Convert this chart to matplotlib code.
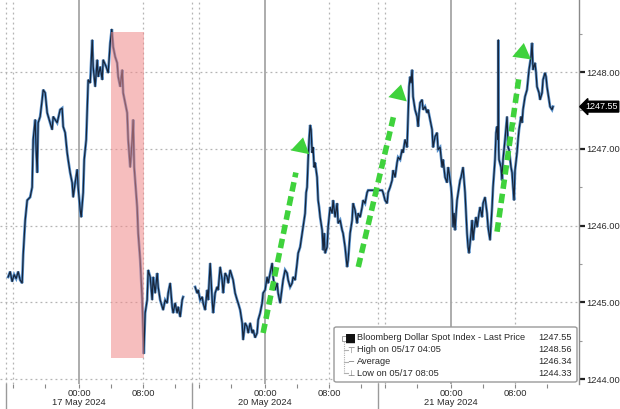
import numpy as np
import matplotlib
matplotlib.use("Agg")
import matplotlib.pyplot as plt
import matplotlib.transforms as mtransforms
from matplotlib.patches import Rectangle, FancyBboxPatch, FancyArrowPatch
from matplotlib.lines import Line2D

plt.rcParams['font.family'] = ['Liberation Sans', 'DejaVu Sans']

# ---- data: hours on a session axis (17 May 00:00 = 0, 20 May 00:00 = 23.25, 21 May 00:00 = 46.5)
t_s1 = [-8.88, -8.63, -8.38, -8.13, -7.88, -7.63, -7.38, -7.13, -7.0, -6.75, -6.5, -6.13, -5.88, -5.75,
        -5.5, -5.38, -5.25, -5.13, -4.88, -4.63, -4.5, -4.25, -4.0, -3.63, -3.38, -3.25, -2.75, -2.38,
        -2.13, -2.0, -1.75, -1.5, -1.38, -1.13, -0.88, -0.75, -0.5, -0.25, -0.13, 0.13, 0.25, 0.5, 0.63,
        0.88, 1.0, 1.13, 1.38, 1.63, 1.75, 2.0, 2.25, 2.38, 2.63, 2.88, 3.0, 3.38, 3.63, 3.88, 4.08,
        4.25, 4.5, 4.75, 4.88, 5.13, 5.38, 5.5, 5.75, 6.0, 6.13, 6.38, 6.63, 6.75, 6.88, 7.0, 7.25, 7.38,
        7.63, 7.88, 8.0, 8.08, 8.25, 8.5, 8.63, 8.88, 9.13, 9.25, 9.5, 9.75, 9.88, 10.13, 10.5, 10.75,
        11.0, 11.13, 11.38, 11.63, 11.75, 12.0, 12.25, 12.38, 12.63, 12.88, 13.0]
v_s1 = [1245.33, 1245.40, 1245.27, 1245.36, 1245.31, 1245.40, 1245.29, 1245.25, 1245.62, 1246.07,
        1246.33, 1246.37, 1246.50, 1247.12, 1247.38, 1246.99, 1246.69, 1247.34, 1247.42, 1247.64,
        1247.77, 1247.73, 1247.47, 1247.34, 1247.25, 1247.42, 1247.34, 1247.51, 1247.53, 1247.29,
        1247.21, 1246.95, 1246.86, 1246.69, 1246.56, 1246.37, 1246.56, 1246.73, 1246.50, 1246.20,
        1246.11, 1246.43, 1246.86, 1247.12, 1247.51, 1247.90, 1247.86, 1248.42, 1248.07, 1247.81,
        1248.16, 1247.94, 1248.07, 1247.90, 1248.16, 1248.07, 1247.99, 1248.38, 1248.56, 1248.33,
        1248.20, 1248.12, 1247.94, 1247.81, 1248.03, 1247.73, 1247.60, 1247.47, 1247.12, 1246.76,
        1247.12, 1247.38, 1246.76, 1246.59, 1246.24, 1245.90, 1245.55, 1245.03, 1244.60, 1244.33,
        1244.86, 1245.03, 1245.42, 1245.33, 1245.03, 1245.33, 1245.12, 1245.38, 1245.20, 1245.03,
        1244.90, 1245.03, 1244.99, 1245.12, 1245.25, 1244.94, 1244.86, 1244.99, 1244.86, 1244.94,
        1244.81, 1245.03, 1245.07]

t_s2 = [14.5, 14.75, 14.88, 15.13, 15.38, 15.5, 15.75, 16.0, 16.13, 16.38, 16.63, 16.75, 17.0, 17.25,
        17.38, 17.63, 17.88, 18.0, 18.25, 18.5, 18.63, 18.88, 19.13, 19.25, 19.5, 19.75, 19.88, 20.13,
        20.38, 20.5, 20.75, 21.0, 21.13, 21.38, 21.63, 21.75, 22.0, 22.25, 22.38, 22.63, 22.88, 23.0,
        23.25, 23.5, 23.63, 23.88, 24.13, 24.25, 24.5, 24.75, 24.88, 25.13, 25.38, 25.5, 25.75, 26.0,
        26.13, 26.38, 26.63, 26.75, 27.0, 27.25, 27.38, 27.63, 27.88, 28.0, 28.25, 28.38, 28.5, 28.63,
        28.75, 28.88, 29.0, 29.13, 29.25, 29.38, 29.5, 29.75, 29.88, 30.0, 30.13, 30.38, 30.5, 30.63,
        30.75, 31.0, 31.13, 31.38, 31.63, 31.75, 32.0, 32.25, 32.38, 32.63, 32.88, 33.0, 33.25, 33.5,
        33.63, 33.88, 34.13, 34.25, 34.5, 34.75, 34.88, 35.13, 35.38, 35.5, 35.75, 36.0, 36.13,
        37.88, 38.0, 38.25, 38.5, 38.63, 38.88, 39.13, 39.25, 39.5, 39.75, 39.88, 40.13, 40.38, 40.5,
        40.75, 41.0, 41.13, 41.25, 41.38, 41.5, 41.63, 41.75, 42.0, 42.25, 42.38, 42.5, 42.63, 42.88,
        43.0, 43.25, 43.5, 43.63, 43.88, 44.13, 44.25, 44.5, 44.75, 44.88, 45.13, 45.38, 45.5, 45.75,
        46.0, 46.13, 46.25, 46.5, 46.63, 46.75, 46.88, 47.0, 47.13, 47.25, 47.5, 47.63, 47.75, 48.0,
        48.13, 48.25, 48.38, 48.5, 48.63, 48.75, 49.0, 49.13, 49.25, 49.38, 49.63, 49.75, 50.0, 50.13,
        50.38, 50.5, 50.75, 51.0, 51.13, 51.38, 51.63, 51.75, 52.0, 52.13, 52.25, 52.38, 52.41, 52.45,
        52.5, 52.75, 52.88, 53.0, 53.25, 53.5, 53.63, 53.75, 54.0, 54.13, 54.25, 54.38, 54.5, 54.75,
        54.88, 55.0, 55.25, 55.38, 55.5, 55.75, 56.0, 56.13, 56.25, 56.5, 56.63, 56.75, 57.0, 57.13,
        57.25, 57.5, 57.63, 57.88, 58.0, 58.25, 58.38, 58.5, 58.75, 58.88, 59.13, 59.25]
v_s2 = [1245.20, 1245.12, 1245.16, 1245.03, 1245.07, 1244.99, 1244.90, 1245.16, 1245.03, 1245.51,
        1245.03, 1244.86, 1245.12, 1245.20, 1245.16, 1245.46, 1245.29, 1245.12, 1245.38, 1245.33,
        1245.25, 1245.42, 1245.33, 1245.29, 1245.12, 1245.03, 1244.99, 1244.90, 1244.73, 1244.51,
        1244.73, 1244.68, 1244.60, 1244.73, 1244.60, 1244.64, 1244.54, 1244.60, 1244.77, 1244.86,
        1244.99, 1245.12, 1245.16, 1245.33, 1245.25, 1245.38, 1245.51, 1245.33, 1245.16, 1245.25,
        1245.12, 1244.99, 1245.20, 1245.29, 1245.42, 1245.38, 1245.29, 1245.20, 1245.25, 1245.33,
        1245.29, 1245.51, 1245.64, 1245.72, 1245.90, 1245.98, 1246.16, 1246.43, 1246.50, 1246.86,
        1247.12, 1247.31, 1247.25, 1246.95, 1247.02, 1246.76, 1246.82, 1246.63, 1246.33, 1246.24,
        1246.11, 1245.94, 1245.68, 1245.90, 1245.64, 1245.72, 1245.98, 1246.24, 1246.16, 1246.33,
        1246.11, 1246.29, 1246.03, 1246.07, 1245.94, 1245.90, 1245.72, 1245.46, 1245.55, 1245.90,
        1246.07, 1246.29, 1246.20, 1246.03, 1246.16, 1246.11, 1246.24, 1246.33, 1246.29, 1246.43,
        1246.46,
        1246.46, 1246.43, 1246.33, 1246.29, 1246.43, 1246.50, 1246.59, 1246.72, 1246.63, 1246.82,
        1246.89, 1246.86, 1246.99, 1246.95, 1247.12, 1247.02, 1247.42, 1247.81, 1247.94, 1247.86,
        1248.03, 1247.68, 1247.51, 1247.42, 1247.29, 1247.47, 1247.60, 1247.64, 1247.51, 1247.55,
        1247.47, 1247.51, 1247.38, 1247.25, 1247.02, 1247.16, 1247.21, 1246.99, 1247.02, 1246.76,
        1246.86, 1246.63, 1246.56, 1246.76, 1246.69, 1246.50, 1246.33, 1245.98, 1246.16, 1245.94,
        1246.16, 1246.33, 1246.50, 1246.59, 1246.63, 1246.76, 1246.59, 1246.43, 1246.16, 1245.90,
        1245.72, 1245.64, 1245.90, 1246.07, 1245.81, 1245.94, 1246.11, 1245.98, 1246.16, 1246.24,
        1246.11, 1246.29, 1246.37, 1246.16, 1245.98, 1245.81, 1246.24, 1246.50, 1246.86, 1247.21,
        1247.29, 1247.12, 1248.42, 1247.02, 1246.86, 1246.76, 1246.59, 1246.86, 1247.12, 1247.42,
        1247.02, 1246.99, 1246.76, 1246.69, 1246.50, 1246.33, 1246.72, 1246.95, 1247.12, 1247.25,
        1247.42, 1247.34, 1247.51, 1247.68, 1247.77, 1247.90, 1248.03, 1248.20, 1248.38, 1248.03,
        1248.12, 1247.99, 1247.81, 1247.73, 1247.64, 1247.73, 1247.90, 1247.99, 1247.94, 1247.81,
        1247.64, 1247.55, 1247.51, 1247.55]

day_starts = [0.0, 23.25, 46.5]
day_names = ["17 May 2024", "20 May 2024", "21 May 2024"]
session_breaks = [-9.1, 14.15, 37.4]

legend_labels = ["Bloomberg Dollar Spot Index - Last Price", "High on 05/17 04:05", "Average",
                 "Low on 05/17 08:05"]
legend_values = [1247.55, 1248.56, 1246.34, 1244.33]
legend_symbols = ["\u25A0", "\u22A4", "\u2212", "\u22A5"]

last_price = 1247.55
selloff_window = (4.0, 8.1)          # hours: high 04:05 -> low 08:05
selloff_range = (1244.28, 1248.52)

# green arrows (tail hour, tail value, head hour, head value)
arrows = [(23.0, 1244.60, 28.0, 1247.15),
          (34.9, 1245.46, 40.25, 1247.84),
          (52.25, 1245.92, 55.6, 1248.38)]

FS = 6.7
TXT = '#2a2a2a'

# ---- figure
W, H = 620, 409
fig = plt.figure(figsize=(W / 100, H / 100), dpi=100)
ax = fig.add_axes([0, 1 - 384 / H, 579 / W, 384 / H])
ax.set_xlim(-9.9, 62.5)
ax.set_ylim(1243.935, 1248.94)

t_all = np.array(t_s1 + [np.nan] + t_s2)
v_all = np.array(v_s1 + [np.nan] + v_s2)
ax.plot(t_all, v_all, color='#5a92cc', lw=2.0, zorder=4, solid_joinstyle='miter')
ax.plot(t_all, v_all, color='#17253a', lw=0.9, zorder=5)

# grid
grid_c = '#b4b4b4'
for y in range(1244, 1249):
    ax.axhline(y, color=grid_c, lw=0.9, ls=(0, (1.5, 2.5)), zorder=1)
for d in day_starts:
    ax.axvline(d, color='#a6a6a6', lw=1.3, zorder=1)
    ax.axvline(d + 8, color=grid_c, lw=0.9, ls=(0, (1.5, 2.5)), zorder=1)
for s in session_breaks:
    ax.axvline(s, color=grid_c, lw=0.9, ls=(0, (1.5, 2.5)), zorder=1)
    ax.axvline(s + 0.85, color=grid_c, lw=0.9, ls=(0, (1.5, 2.5)), zorder=1)
    ax.plot([s, s], [0, -0.07], transform=mtransforms.blended_transform_factory(ax.transData, ax.transAxes),
            color='#9a9a9a', lw=1.0, clip_on=False)

# red selloff box
ax.add_patch(Rectangle((selloff_window[0], selloff_range[0]), selloff_window[1] - selloff_window[0],
                       selloff_range[1] - selloff_range[0], fc='#f08a8a', alpha=0.55, ec='none', zorder=6))

# green dashed arrows
g = '#3fd23c'
for (x0, y0, x1, y1) in arrows:
    xm = x0 + 0.82 * (x1 - x0)
    ym = y0 + 0.82 * (y1 - y0)
    ax.plot([x0, xm], [y0, ym], color=g, lw=4.0, ls=(0, (1.7, 0.9)), solid_capstyle='butt',
            dash_capstyle='butt', zorder=7)
    ax.add_patch(FancyArrowPatch((xm, ym), (x1, y1), arrowstyle='-|>,head_length=0.55,head_width=0.34',
                                 mutation_scale=20, color=g, lw=0, zorder=7, shrinkA=0, shrinkB=0))

# spines and ticks
for side in ['left', 'top', 'bottom']:
    ax.spines[side].set_visible(False)
ax.spines['right'].set_color('#8a8a8a')
ax.spines['right'].set_linewidth(1.0)

ax.yaxis.tick_right()
ax.set_yticks([1244, 1245, 1246, 1247, 1248])
ax.set_yticklabels([f"{v:.2f}" for v in [1244, 1245, 1246, 1247, 1248]])
ax.set_yticks([1244.5, 1245.5, 1246.5, 1247.5, 1248.5], minor=True)
ax.tick_params(axis='y', which='major', length=4, width=1.6, color='#222222', pad=1.2,
               labelsize=FS, labelcolor=TXT)
ax.tick_params(axis='y', which='minor', length=2, width=0.8, color='#999999')

major_x = []
major_lab = []
for d, n in zip(day_starts, day_names):
    major_x += [d, d + 8]
    major_lab += [f"00:00\n{n}", "08:00"]
ax.set_xticks(major_x)
ax.set_xticklabels(major_lab, linespacing=1.0)
minor_x = []
for d in day_starts:
    minor_x += [d - 8.25, d - 4.25, d + 4, d + 12]
ax.set_xticks(minor_x, minor=True)
ax.tick_params(axis='x', which='major', length=3, width=0.8, color='#888888', pad=0.8,
               labelsize=FS, labelcolor=TXT)
ax.tick_params(axis='x', which='minor', length=3, width=0.8, color='#888888')

# last price tag
ax.text(1.011, last_price, f"{last_price:.2f}", color='white', fontsize=FS - 0.2, va='center', ha='left',
        transform=mtransforms.blended_transform_factory(ax.transAxes, ax.transData),
        bbox=dict(boxstyle='larrow,pad=0.1', fc='black', ec='black'), zorder=10, clip_on=False)

# legend box
def fx(px):
    return px / W

def fy(py):
    return 1 - py / H

fig.patches.append(FancyBboxPatch((fx(334), fy(382)), fx(577) - fx(334), fy(327) - fy(382),
                                  boxstyle='round,pad=0,rounding_size=0.004', transform=fig.transFigure,
                                  fc='white', ec='#9a9a9a', lw=1.0, zorder=20))
rows = [338, 350, 362, 373]
fig.lines.append(Line2D([fx(344), fx(344)], [fy(341), fy(373)], transform=fig.transFigure,
                        color='#b0b0b0', lw=0.8, ls=(0, (1, 1)), zorder=21))
fig.patches.append(Rectangle((fx(341.5), fy(340.5)), fx(5), 5 / H, transform=fig.transFigure,
                             fc='white', ec='#a0a0a0', lw=0.7, zorder=22))
for ry in rows[1:]:
    fig.lines.append(Line2D([fx(344), fx(348)], [fy(ry), fy(ry)], transform=fig.transFigure,
                            color='#b0b0b0', lw=0.8, zorder=21))
for ry, lab, val, sym in zip(rows, legend_labels, legend_values, legend_symbols):
    fig.text(fx(351), fy(ry), sym, fontsize=6 if sym != "\u25A0" else 8.5, va='center', ha='center',
             family='DejaVu Sans', color='#111111' if sym == "\u25A0" else '#777777', zorder=23)
    fig.text(fx(357), fy(ry), lab, fontsize=FS, va='center', ha='left', color=TXT, zorder=23)
    fig.text(fx(572), fy(ry), f"{val:.2f}", fontsize=FS, va='center', ha='right', color=TXT,
             zorder=23)

fig.savefig("out.png", dpi=100)
